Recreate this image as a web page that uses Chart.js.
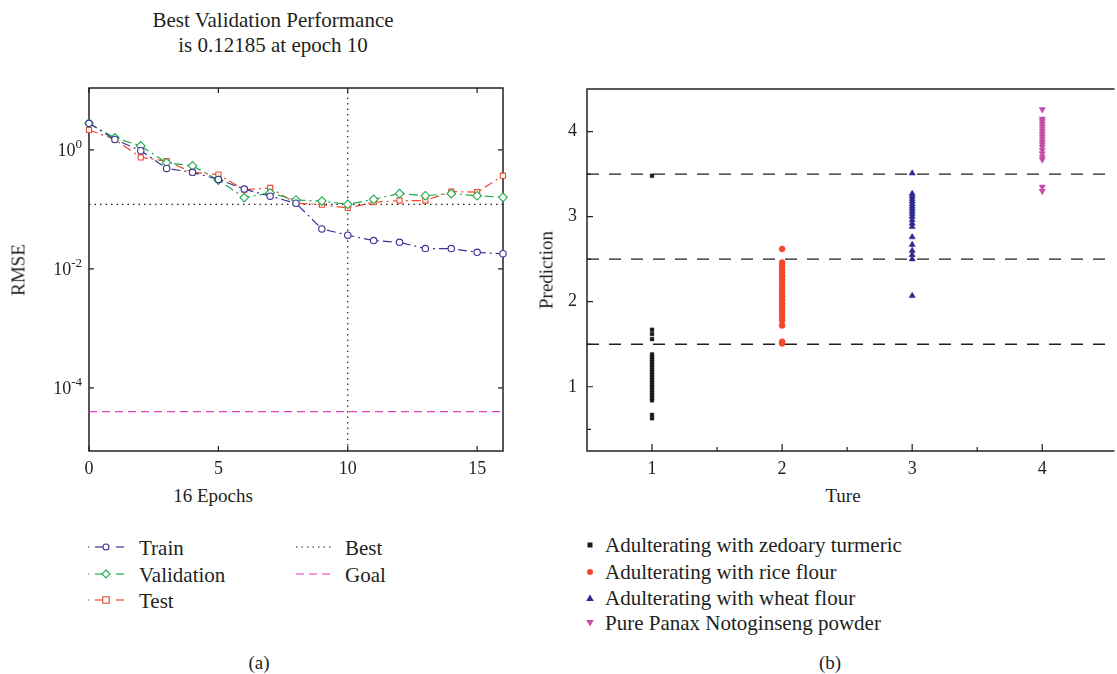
<!DOCTYPE html>
<html>
<head>
<meta charset="utf-8">
<script src="https://cdn.jsdelivr.net/npm/chart.js@4.4.1/dist/chart.umd.min.js"></script>
<style>
  body { margin: 0; width: 1117px; height: 674px; background: #fff; position: relative; overflow: hidden;
         font-family: "Liberation Serif", "DejaVu Serif", serif; color: #231f20; }
  canvas { position: absolute; }
  .c { position: absolute; transform: translate(-50%, -50%); white-space: nowrap; font-size: 19px; line-height: 1; }
  .big { font-size: 21px; }
  .r { transform: translate(-50%, -50%) rotate(-90deg); }
  .lg { position: absolute; white-space: nowrap; font-size: 21px; line-height: 1; transform: translateY(-50%); }
  .sw { position: absolute; transform: translateY(-50%); }
</style>
</head>
<body>
<div class="c big" style="left:273px;top:20px">Best Validation Performance</div>
<div class="c big" style="left:273px;top:45px">is 0.12185 at epoch 10</div>
<canvas id="perf" style="left:0;top:0;width:540px;height:480px" width="540" height="480"></canvas>
<canvas id="pred" style="left:540px;top:0;width:577px;height:480px" width="577" height="480"></canvas>
<div class="c r" style="left:18px;top:270px">RMSE</div>
<div class="c" style="left:213px;top:495px">16 Epochs</div>
<div class="c r" style="left:546px;top:270px">Prediction</div>
<div class="c" style="left:843px;top:495px">Ture</div>
<div class="c" style="left:259px;top:662px">(a)</div>
<div class="c" style="left:830px;top:662px">(b)</div>
<div id="legend-a"></div>
<div id="legend-b"></div>
<script>
  // ---- (a) training performance ----
  const EPOCHS = [0, 1, 2, 3, 4, 5, 6, 7, 8, 9, 10, 11, 12, 13, 14, 15, 16];
  const TRAIN = [2.8, 1.5, 0.97, 0.49, 0.42, 0.32, 0.22, 0.167, 0.127, 0.047, 0.037, 0.030, 0.028, 0.022, 0.022, 0.019, 0.018];
  const VALIDATION = [2.8, 1.6, 1.17, 0.61, 0.54, 0.31, 0.158, 0.19, 0.144, 0.138, 0.12185, 0.148, 0.185, 0.17, 0.185, 0.17, 0.16];
  const TEST = [2.17, 1.5, 0.75, 0.65, 0.42, 0.385, 0.215, 0.23, 0.127, 0.12, 0.106, 0.132, 0.141, 0.141, 0.2, 0.195, 0.37];
  const BEST_EPOCH = 10;
  const BEST_VALUE = 0.12185;
  const GOAL = 4e-5;
  const RMSE_TICKS = [1, 1e-2, 1e-4];
  const RMSE_EXPONENTS = ["0", "-2", "-4"];
  const EPOCH_TICKS = [0, 5, 10, 15];

  // ---- (b) prediction vs true class ----
  const ZEDOARY = [3.48, 1.67, 1.62, 1.56, 1.38, 1.35, 1.32, 1.29, 1.26, 1.23, 1.2, 1.17, 1.14, 1.11, 1.08, 1.05, 1.02, 0.99, 0.96, 0.93, 0.9, 0.87, 0.84, 0.67, 0.63];
  const RICE = [2.62, 2.46, 2.42, 2.38, 2.34, 2.3, 2.26, 2.22, 2.18, 2.14, 2.1, 2.06, 2.02, 1.98, 1.94, 1.9, 1.86, 1.82, 1.78, 1.72, 1.53, 1.51];
  const WHEAT = [3.51, 3.27, 3.24, 3.21, 3.18, 3.15, 3.12, 3.09, 3.06, 3.03, 3.0, 2.96, 2.92, 2.88, 2.76, 2.67, 2.6, 2.55, 2.5, 2.07];
  const PURE = [4.26, 4.15, 4.12, 4.09, 4.06, 4.03, 4.0, 3.97, 3.94, 3.91, 3.88, 3.85, 3.82, 3.78, 3.74, 3.7, 3.67, 3.35, 3.3];
  const CLASS_LABELS = ["Adulterating with zedoary turmeric", "Adulterating with rice flour", "Adulterating with wheat flour", "Pure Panax Notoginseng powder"];
  const THRESHOLDS = [1.5, 2.5, 3.5];
  const TRUE_TICKS = [1, 1.5, 2, 2.5, 3, 3.5, 4];
  const PRED_TICKS = [0.5, 1, 1.5, 2, 2.5, 3, 3.5, 4];

  const INK = "#231f20";
  const C_TRAIN = "#3a3394", C_VAL = "#1faa4c", C_TEST = "#ec4a2c", C_GOAL = "#e33dba";
  const C_ZED = "#1a1a1a", C_RICE = "#f2492a", C_WHEAT = "#2e2a8a", C_PURE = "#c54ba6";
  const TICK_FONT = { family: "'Liberation Serif', serif", size: 18 };
  const DASH_DOT = [9, 4, 2, 4];
  const Y_MIN = 8.7e-6, Y_MAX = 11;

  function xy(xs, ys) { return ys.map(function (v, i) { return { x: xs[i], y: v }; }); }
  function column(xv, ys) { return ys.map(function (v) { return { x: xv, y: v }; }); }

  function perfSeries(label, values, color, style, radius) {
    return {
      label: label, data: xy(EPOCHS, values), borderColor: color, borderWidth: 1.2, borderDash: DASH_DOT,
      pointStyle: style, pointRadius: radius, pointBorderColor: color, pointBackgroundColor: "#fff",
      pointBorderWidth: 1.1, clip: false, order: 1
    };
  }

  // Box with inward ticks, MATLAB style; y labels get real superscripts.
  const perfFrame = {
    id: "perfFrame",
    beforeDatasetsDraw: function (chart) {
      const ctx = chart.ctx, a = chart.chartArea, x = chart.scales.x, y = chart.scales.y;
      ctx.save();
      ctx.strokeStyle = INK;
      ctx.lineWidth = 1.5;
      ctx.strokeRect(a.left, a.top, a.right - a.left, a.bottom - a.top);
      ctx.lineWidth = 1.2;
      ctx.beginPath();
      x.ticks.forEach(function (t) {
        const px = x.getPixelForValue(t.value);
        ctx.moveTo(px, a.bottom); ctx.lineTo(px, a.bottom - 5);
        ctx.moveTo(px, a.top); ctx.lineTo(px, a.top + 5);
      });
      y.ticks.forEach(function (t) {
        const py = y.getPixelForValue(t.value);
        ctx.moveTo(a.left, py); ctx.lineTo(a.left + 5, py);
        ctx.moveTo(a.right, py); ctx.lineTo(a.right - 5, py);
      });
      ctx.stroke();
      ctx.restore();
    },
    afterDraw: function (chart) {
      const ctx = chart.ctx, y = chart.scales.y;
      ctx.save();
      ctx.fillStyle = INK;
      ctx.textBaseline = "alphabetic";
      RMSE_TICKS.forEach(function (v, i) {
        const py = y.getPixelForValue(v);
        ctx.font = "18px 'Liberation Serif', serif";
        const wb = ctx.measureText("10").width;
        ctx.font = "13px 'Liberation Serif', serif";
        const we = ctx.measureText(RMSE_EXPONENTS[i]).width;
        const right = 82;
        ctx.fillText(RMSE_EXPONENTS[i], right - we, py - 2);
        ctx.font = "18px 'Liberation Serif', serif";
        ctx.fillText("10", right - we - wb, py + 6);
      });
      ctx.restore();
    }
  };

  new Chart(document.getElementById("perf"), {
    type: "line",
    data: {
      datasets: [
        perfSeries("Train", TRAIN, C_TRAIN, "circle", 3.2),
        perfSeries("Validation", VALIDATION, C_VAL, "rectRot", 4.3),
        perfSeries("Test", TEST, C_TEST, "rect", 3.6),
        { label: "Best", data: [{ x: 0, y: BEST_VALUE }, { x: 16, y: BEST_VALUE }], borderColor: INK, borderWidth: 1.2, borderDash: [1.5, 4], pointRadius: 0, order: 3 },
        { label: "BestEpoch", data: [{ x: BEST_EPOCH, y: Y_MIN }, { x: BEST_EPOCH, y: Y_MAX }], borderColor: INK, borderWidth: 1.2, borderDash: [1.5, 4], pointRadius: 0, order: 3 },
        { label: "Goal", data: [{ x: 0, y: GOAL }, { x: 16, y: GOAL }], borderColor: C_GOAL, borderWidth: 1.3, borderDash: [8, 5], pointRadius: 0, order: 3 }
      ]
    },
    options: {
      responsive: false, animation: false,
      layout: { padding: { left: 0, top: 88, right: 37, bottom: 0 } },
      plugins: { legend: { display: false }, tooltip: { enabled: false } },
      scales: {
        x: {
          type: "linear", min: 0, max: 16,
          afterBuildTicks: function (s) { s.ticks = EPOCH_TICKS.map(function (v) { return { value: v }; }); },
          afterFit: function (s) { s.height = 29; },
          grid: { display: false, drawTicks: false }, border: { display: false },
          ticks: { font: TICK_FONT, color: INK, padding: 7 }
        },
        y: {
          type: "logarithmic", min: Y_MIN, max: Y_MAX,
          afterBuildTicks: function (s) { s.ticks = RMSE_TICKS.map(function (v) { return { value: v }; }); },
          afterFit: function (s) { s.width = 89; },
          grid: { display: false, drawTicks: false }, border: { display: false },
          ticks: { display: false }
        }
      }
    },
    plugins: [perfFrame]
  });

  const predFrame = {
    id: "predFrame",
    beforeDatasetsDraw: function (chart) {
      const ctx = chart.ctx, a = chart.chartArea, x = chart.scales.x, y = chart.scales.y;
      ctx.save();
      ctx.strokeStyle = INK;
      ctx.lineWidth = 1.5;
      ctx.beginPath();
      ctx.moveTo(a.right + 2, a.top); ctx.lineTo(a.left, a.top); ctx.lineTo(a.left, a.bottom); ctx.lineTo(a.right + 2, a.bottom);
      ctx.stroke();
      ctx.lineWidth = 1.2;
      ctx.beginPath();
      x.ticks.forEach(function (t) {
        const px = x.getPixelForValue(t.value);
        ctx.moveTo(px, a.bottom); ctx.lineTo(px, a.bottom - (Number.isInteger(t.value) ? 7 : 4));
      });
      y.ticks.forEach(function (t) {
        const py = y.getPixelForValue(t.value);
        ctx.moveTo(a.left, py); ctx.lineTo(a.left + (Number.isInteger(t.value) ? 6 : 4), py);
      });
      ctx.stroke();
      ctx.restore();
    }
  };

  const X_B_MIN = 0.5, X_B_MAX = 4.54;
  const thresholdSets = THRESHOLDS.map(function (v) {
    return { type: "line", data: [{ x: X_B_MIN, y: v }, { x: X_B_MAX, y: v }], borderColor: INK, borderWidth: 1.3, borderDash: [12, 10], pointRadius: 0, order: 2 };
  });

  function classSet(label, xv, values, color, style, radius, rotation) {
    return {
      type: "scatter", label: label, data: column(xv, values), pointStyle: style, pointRadius: radius,
      rotation: rotation || 0, backgroundColor: color, borderColor: color, borderWidth: 0.5, clip: false, order: 1
    };
  }

  new Chart(document.getElementById("pred"), {
    type: "scatter",
    data: {
      datasets: thresholdSets.concat([
        classSet(CLASS_LABELS[0], 1, ZEDOARY, C_ZED, "rect", 2.6),
        classSet(CLASS_LABELS[1], 2, RICE, C_RICE, "circle", 3),
        classSet(CLASS_LABELS[2], 3, WHEAT, C_WHEAT, "triangle", 3.6),
        classSet(CLASS_LABELS[3], 4, PURE, C_PURE, "triangle", 3.6, 180)
      ])
    },
    options: {
      responsive: false, animation: false,
      layout: { padding: { left: 0, top: 89, right: 0, bottom: 0 } },
      plugins: { legend: { display: false }, tooltip: { enabled: false } },
      scales: {
        x: {
          type: "linear", min: X_B_MIN, max: X_B_MAX,
          afterBuildTicks: function (s) { s.ticks = TRUE_TICKS.map(function (v) { return { value: v }; }); },
          afterFit: function (s) { s.height = 29; },
          grid: { display: false, drawTicks: false }, border: { display: false },
          ticks: { font: TICK_FONT, color: INK, padding: 7, maxRotation: 0, autoSkip: false,
                   callback: function (v) { return Number.isInteger(v) ? String(v) : ""; } }
        },
        y: {
          type: "linear", min: 0.245, max: 4.5,
          afterBuildTicks: function (s) { s.ticks = PRED_TICKS.map(function (v) { return { value: v }; }); },
          afterFit: function (s) { s.width = 47; },
          grid: { display: false, drawTicks: false }, border: { display: false },
          ticks: { font: TICK_FONT, color: INK, padding: 10, autoSkip: false,
                   callback: function (v) { return Number.isInteger(v) ? String(v) : ""; } }
        }
      }
    },
    plugins: [predFrame]
  });

  // ---- legends ----
  function lineSample(color, marker, dash) {
    let m = "";
    if (marker === "circle") m = '<circle cx="20" cy="6" r="3" fill="#fff" stroke="' + color + '" stroke-width="1.1"/>';
    if (marker === "diamond") m = '<path d="M20 2 L24 6 L20 10 L16 6 Z" fill="#fff" stroke="' + color + '" stroke-width="1.1"/>';
    if (marker === "square") m = '<rect x="16.8" y="2.8" width="6.4" height="6.4" fill="#fff" stroke="' + color + '" stroke-width="1.1"/>';
    let body;
    if (marker) {
      body = '<line x1="2" y1="6" x2="3.5" y2="6" stroke="' + color + '" stroke-width="1.2"/>' +
             '<line x1="9" y1="6" x2="17" y2="6" stroke="' + color + '" stroke-width="1.2"/>' +
             '<line x1="30" y1="6" x2="38" y2="6" stroke="' + color + '" stroke-width="1.2"/>' + m;
    } else {
      body = '<line x1="0" y1="6" x2="36" y2="6" stroke="' + color + '" stroke-width="1.2" stroke-dasharray="' + dash + '"/>';
    }
    return '<svg width="40" height="12">' + body + '</svg>';
  }

  const legendA = [
    { x: 86, tx: 139, y: 548, text: "Train", svg: lineSample(C_TRAIN, "circle") },
    { x: 86, tx: 139, y: 575, text: "Validation", svg: lineSample(C_VAL, "diamond") },
    { x: 86, tx: 139, y: 601, text: "Test", svg: lineSample(C_TEST, "square") },
    { x: 296, tx: 345, y: 548, text: "Best", svg: lineSample(INK, null, "1.5,4") },
    { x: 296, tx: 345, y: 575, text: "Goal", svg: lineSample(C_GOAL, null, "8,5") }
  ];
  document.getElementById("legend-a").innerHTML = legendA.map(function (e) {
    return '<div class="sw" style="left:' + e.x + 'px;top:' + e.y + 'px">' + e.svg + '</div>' +
           '<div class="lg" style="left:' + e.tx + 'px;top:' + e.y + 'px">' + e.text + '</div>';
  }).join("");

  const markerSvgs = [
    '<rect x="2.5" y="2.5" width="5" height="5" fill="' + C_ZED + '"/>',
    '<circle cx="5" cy="5" r="3" fill="' + C_RICE + '"/>',
    '<path d="M5 1.5 L8.8 8 L1.2 8 Z" fill="' + C_WHEAT + '"/>',
    '<path d="M5 8.5 L8.8 2 L1.2 2 Z" fill="' + C_PURE + '"/>'
  ];
  const legendRowsB = [545, 572, 598, 623];
  document.getElementById("legend-b").innerHTML = CLASS_LABELS.map(function (label, i) {
    return '<div class="sw" style="left:585px;top:' + legendRowsB[i] + 'px"><svg width="10" height="10">' + markerSvgs[i] + '</svg></div>' +
           '<div class="lg" style="left:605px;top:' + legendRowsB[i] + 'px">' + label + '</div>';
  }).join("");
</script>
</body>
</html>
